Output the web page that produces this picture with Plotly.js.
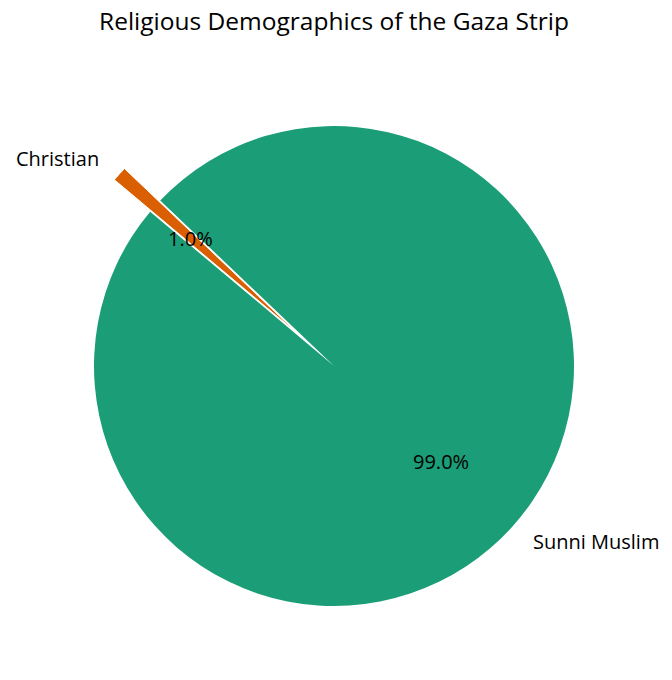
<!DOCTYPE html>
<html>
<head>
<meta charset="utf-8">
<script src="https://cdn.plot.ly/plotly-3.0.1.min.js"></script>
<style>html,body{margin:0;padding:0;background:#fff;}</style>
</head>
<body>
<div id="chart" style="width:672px;height:680px;"></div>
<script>
var labels = ["Sunni Muslim", "Christian"];
var values = [99, 1];
var colors = ["#1b9e77", "#d95f02"];
var pulls = [0, 0.2];

var W = 672, H = 680;
var margin = {l: 46, r: 50, t: 78, b: 26};
var startAngle = 140; // degrees, math convention, counterclockwise
var fontFam = "Open Sans, Noto Sans, sans-serif";

var plotW = W - margin.l - margin.r;
var plotH = H - margin.t - margin.b;
var maxPull = Math.max.apply(null, pulls);
var R = Math.min(plotW, plotH) / (2 * (1 + maxPull));
var cx = margin.l + plotW / 2, cy = margin.t + plotH / 2;

var total = values.reduce(function(a, b) { return a + b; }, 0);
var annotations = [];
var cum = 0;
for (var i = 0; i < values.length; i++) {
  var frac = values[i] / total;
  var mid = (startAngle + (cum + frac / 2) * 360) * Math.PI / 180;
  cum += frac;
  var off = pulls[i] * R;
  var ex = cx + off * Math.cos(mid), ey = cy - off * Math.sin(mid);
  var lx = ex + 1.1 * R * Math.cos(mid), ly = ey - 1.1 * R * Math.sin(mid);
  var px = ex + 0.6 * R * Math.cos(mid), py = ey - 0.6 * R * Math.sin(mid);
  annotations.push({
    xref: "paper", yref: "paper",
    x: (lx - margin.l) / plotW, y: (H - margin.b - ly) / plotH,
    text: labels[i], showarrow: false,
    xanchor: Math.cos(mid) < 0 ? "right" : "left", yanchor: "middle",
    font: {family: fontFam, size: 20, color: "#000"}
  });
  annotations.push({
    xref: "paper", yref: "paper",
    x: (px - margin.l) / plotW, y: (H - margin.b - py) / plotH,
    text: (frac * 100).toFixed(1) + "%", showarrow: false,
    xanchor: "center", yanchor: "middle",
    font: {family: fontFam, size: 20, color: "#000"}
  });
}

// Plotly (counterclockwise) ends the first slice at `rotation` (clockwise from 12 o'clock)
var rotation = 90 - startAngle - (values[0] / total) * 360 + 360;

var trace = {
  type: "pie",
  labels: labels,
  values: values,
  sort: false,
  direction: "counterclockwise",
  rotation: rotation,
  pull: pulls,
  textinfo: "none",
  hoverinfo: "label+percent",
  marker: {colors: colors, line: {color: "#ffffff", width: [0, 1]}},
  showlegend: false
};

var layout = {
  width: W, height: H,
  margin: margin,
  paper_bgcolor: "#fff",
  title: {text: "Religious Demographics of the Gaza Strip", x: 0.497, xanchor: "center", y: 0.968, yanchor: "middle",
          font: {family: fontFam, size: 24.5, color: "#000"}},
  annotations: annotations,
  showlegend: false
};

Plotly.newPlot("chart", [trace], layout, {displayModeBar: false, staticPlot: true});
</script>
</body>
</html>
